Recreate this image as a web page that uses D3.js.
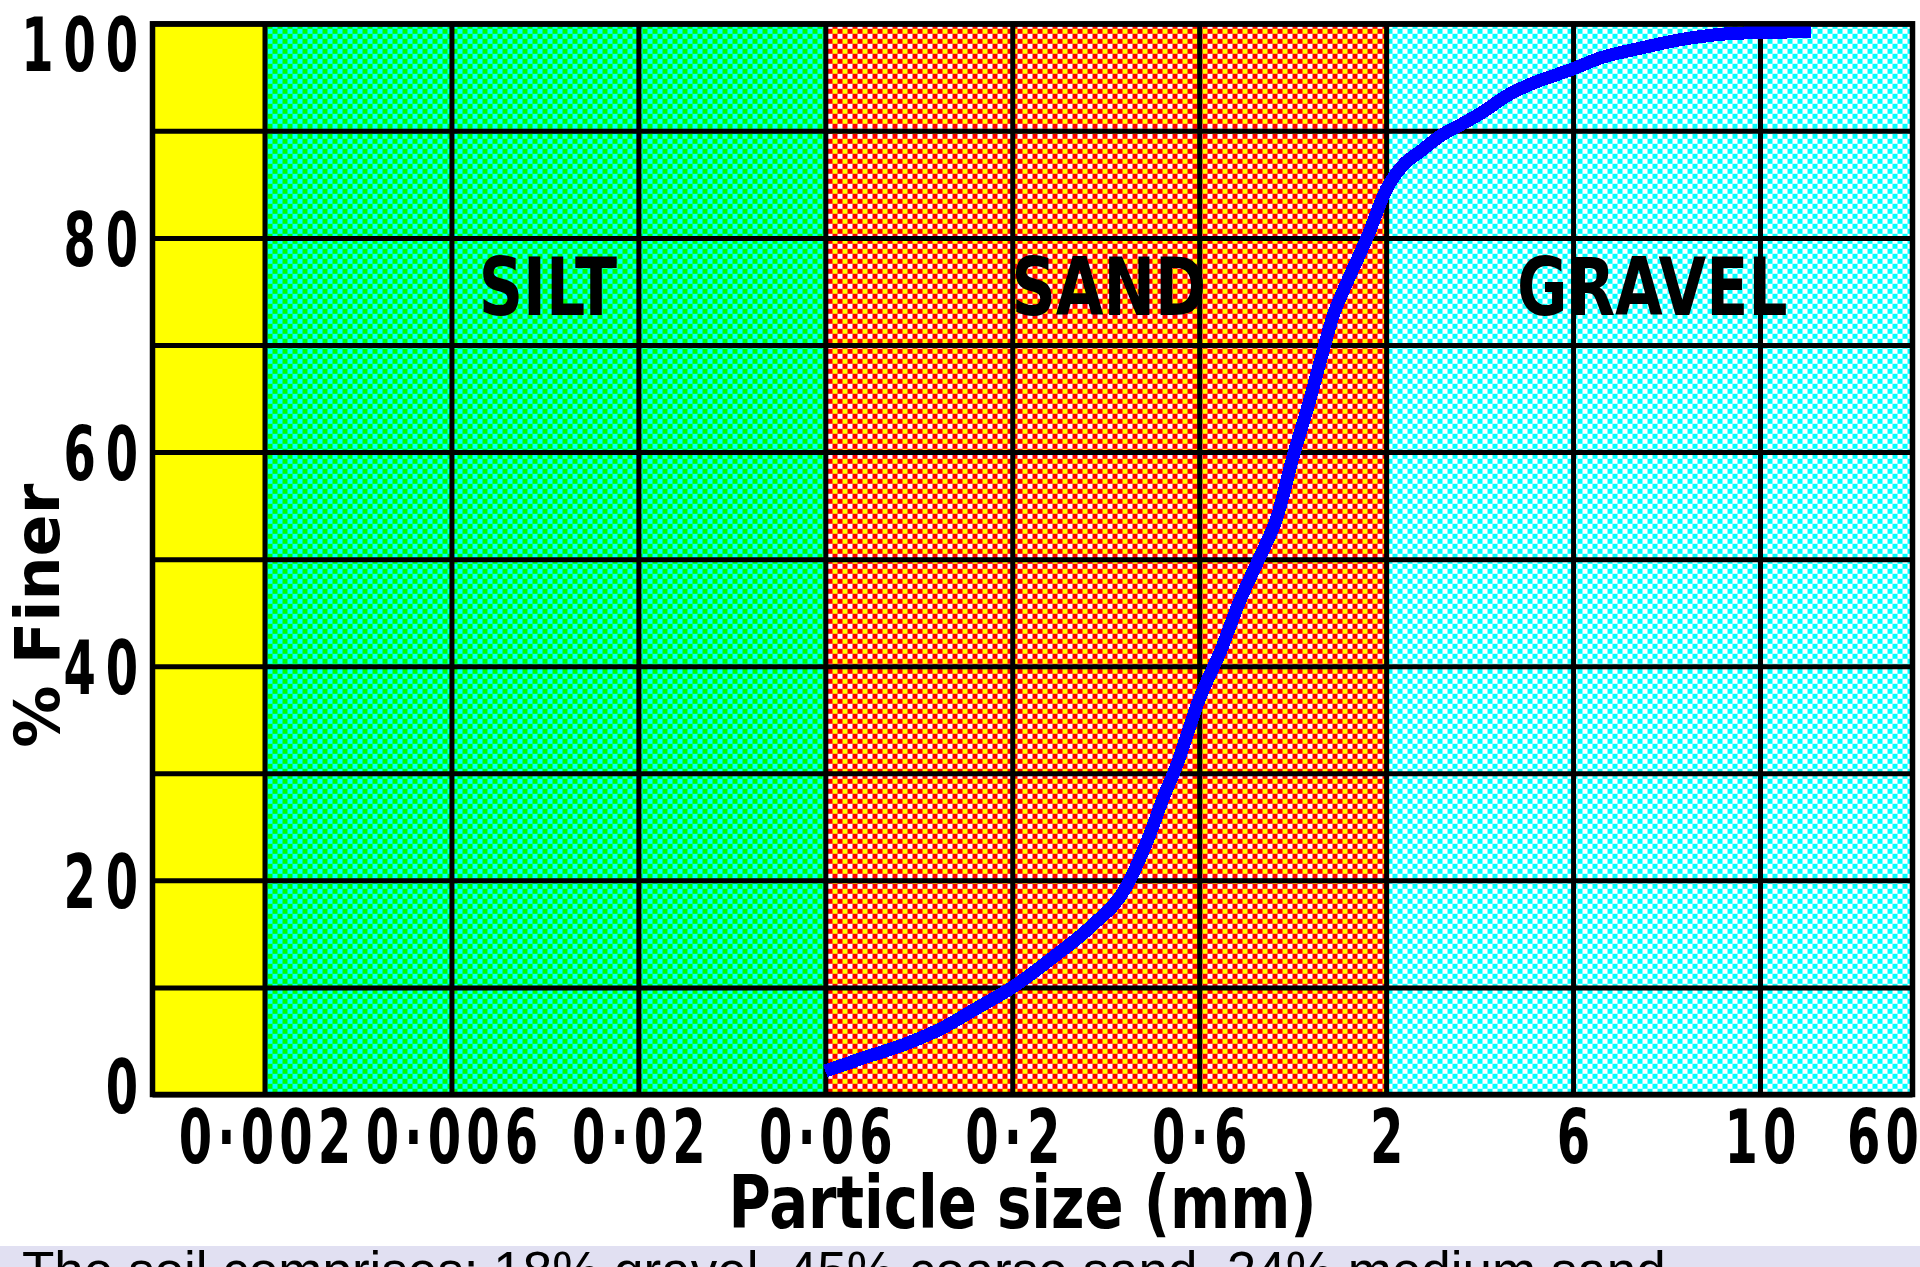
<!DOCTYPE html>
<html>
<head>
<meta charset="utf-8">
<script src="https://cdnjs.cloudflare.com/ajax/libs/d3/7.8.5/d3.min.js"></script>
<style>
  html, body { margin: 0; padding: 0; background: #fff; }
  svg { display: block; }
  .bitmap { font-family: "DejaVu Sans", sans-serif; font-weight: bold; fill: #000; }
</style>
</head>
<body>
<div id="chart"></div>
<script>
// sieve sizes (mm) that get a gridline and a label
var sizeTicks = [0.002, 0.006, 0.02, 0.06, 0.2, 0.6, 2, 6, 10];
var sizeLabels = ["0·002", "0·006", "0·02", "0·06", "0·2", "0·6", "2", "6", "10"];
var endLabel = "60";

var percentLabels = [0, 20, 40, 60, 80, 100];
var percentGrid = [0, 10, 20, 30, 40, 50, 60, 70, 80, 90, 100];

// soil zones, bounds in mm (null = edge of the chart)
var zoneNames = ["", "SILT", "SAND", "GRAVEL"];
var zoneFrom = [null, 0.002, 0.06, 2];
var zoneTo = [0.002, 0.06, 2, null];

// grading curve
var curveSize = [0.06, 0.0765, 0.104, 0.129, 0.158, 0.2, 0.256, 0.32, 0.388, 0.417, 0.449,
  0.487, 0.524, 0.6, 0.69, 0.777, 0.875, 0.992, 1.103, 1.21, 1.319, 1.427, 1.515, 1.788,
  2.0, 2.21, 2.47, 2.77, 3.11, 3.58, 3.99, 4.7, 5.4, 6.0, 6.46, 7.19, 8.16, 9.29, 10.4, 11.5];
var curveFiner = [2.2, 3.4, 4.9, 6.3, 8.0, 10.0, 12.9, 15.8, 19.2, 21.5, 24.3,
  27.8, 30.6, 36.9, 41.5, 46, 49.8, 54, 59.8, 64.3, 68.9, 72.9, 75, 80.4,
  84.5, 86.8, 88.2, 89.6, 90.6, 91.9, 93.1, 94.4, 95.2, 95.8, 96.8, 97.7, 98.6, 99.1, 99.2, 99.3];

var caption = "The soil comprises: 18% gravel, 45% coarse sand, 24% medium sand";

var svgWidth = 1920;
var svgHeight = 1267;
var margin = { top: 23.8, right: 7.5, bottom: 172.5, left: 152.5 };
var width = svgWidth - margin.left - margin.right;
var height = svgHeight - margin.top - margin.bottom;

var svg = d3.select("#chart").append("svg")
  .attr("width", svgWidth)
  .attr("height", svgHeight);

svg.append("rect").attr("width", svgWidth).attr("height", svgHeight).attr("fill", "#fff");

// checker patterns, 5px cells
var defs = svg.append("defs");
function checker(id, c) {
  var p = defs.append("pattern").attr("id", id)
    .attr("patternUnits", "userSpaceOnUse")
    .attr("width", 10).attr("height", 10);
  [[0, 0], [5, 0], [0, 5], [5, 5]].forEach(function(o, i) {
    p.append("rect").attr("x", o[0]).attr("y", o[1])
      .attr("width", 5).attr("height", 5).attr("fill", c[i]);
  });
}
checker("silt", ["#00ffff", "#00ff00", "#00ff00", "#00ffff"]);
checker("sand", ["#ff0000", "#ffffff", "#ffff00", "#ff0000"]);
checker("gravel", ["#00ffff", "#ffffff", "#ffffff", "#00ffff"]);
var zoneFill = ["#ffff00", "url(#silt)", "url(#sand)", "url(#gravel)"];

var chartGroup = svg.append("g")
  .attr("transform", `translate(${margin.left}, ${margin.top})`);

// scales: sieve sizes sit evenly, sizes in between go by log
var xTick = d3.scalePoint()
  .domain(sizeTicks)
  .range([112, width - 152.5]);
var xLog = d3.scaleLinear()
  .domain(sizeTicks.map(Math.log10))
  .range(sizeTicks.map(function(d) { return xTick(d); }));
function xs(mm) { return xLog(Math.log10(mm)); }

var y = d3.scaleLinear().domain([0, 100]).range([height, 0]);

function zoneLeft(i) { return zoneFrom[i] == null ? 0 : xs(zoneFrom[i]); }
function zoneRight(i) { return zoneTo[i] == null ? width : xs(zoneTo[i]); }

// zones
chartGroup.selectAll(".zone")
  .data(zoneNames)
  .enter()
  .append("rect")
  .attr("class", "zone")
  .attr("x", function(d, i) { return zoneLeft(i); })
  .attr("y", 0)
  .attr("width", function(d, i) { return zoneRight(i) - zoneLeft(i); })
  .attr("height", height)
  .attr("fill", function(d, i) { return zoneFill[i]; });

// gridlines
var hGrid = chartGroup.append("g")
  .call(d3.axisLeft(y).tickValues(percentGrid).tickSize(-width).tickFormat(""));
var vGrid = chartGroup.append("g")
  .attr("transform", `translate(0, ${height})`)
  .call(d3.axisBottom(xTick).tickSize(-height).tickFormat(""));
[hGrid, vGrid].forEach(function(g) {
  g.select(".domain").remove();
  g.selectAll("line").attr("stroke", "#000").attr("stroke-width", 5);
});

// zone names
chartGroup.selectAll(".zoneName")
  .data(zoneNames)
  .enter()
  .append("text")
  .attr("class", "bitmap")
  .attr("font-size", 80)
  .attr("text-anchor", "middle")
  .attr("transform", function(d, i) {
    return `translate(${(zoneLeft(i) + zoneRight(i)) / 2 + 3}, ${y(75.5) + 29}) scale(0.77, 1)`;
  })
  .text(function(d) { return d; });

// grading curve
var line = d3.line()
  .x(function(d) { return xs(d[0]); })
  .y(function(d) { return y(d[1]); })
  .curve(d3.curveMonotoneX);
chartGroup.append("path")
  .datum(curveSize.map(function(s, i) { return [s, curveFiner[i]]; }))
  .attr("d", line)
  .attr("fill", "none")
  .attr("stroke", "#0000ff")
  .attr("stroke-width", 13)
  .attr("stroke-linejoin", "round")
  .attr("shape-rendering", "crispEdges");

// frame
chartGroup.append("rect")
  .attr("width", width)
  .attr("height", height)
  .attr("fill", "none")
  .attr("stroke", "#000")
  .attr("stroke-width", 5.5);

// y labels: narrow glyphs, wide spacing like the bitmap font
var yAxis = chartGroup.append("g")
  .call(d3.axisLeft(y).tickValues(percentLabels).tickSize(0));
yAxis.select(".domain").remove();
yAxis.selectAll("text")
  .attr("class", "bitmap")
  .attr("font-size", 75)
  .attr("letter-spacing", 16)
  .attr("x", null).attr("dy", null)
  .attr("text-anchor", "end")
  .attr("transform", function(d) {
    // end labels are pulled inside the frame
    var c = Math.min(Math.max(y(d), 19.6), height - 9);
    return `translate(${-14.5 + 16 * 0.62}, ${c - y(d) + 27.4}) scale(0.62, 1)`;
  });

// x labels
var xAxis = chartGroup.append("g")
  .attr("transform", `translate(0, ${height})`)
  .call(d3.axisBottom(xTick).tickSize(0).tickFormat(function(d, i) { return sizeLabels[i]; }));
xAxis.select(".domain").remove();
xAxis.selectAll("text")
  .attr("class", "bitmap")
  .attr("font-size", 75)
  .attr("letter-spacing", 8)
  .attr("y", null).attr("dy", null)
  .attr("transform", `translate(${8 * 0.64 / 2}, 68.5) scale(0.64, 1)`);

chartGroup.append("text")
  .attr("class", "bitmap")
  .attr("font-size", 75)
  .attr("letter-spacing", 8)
  .attr("text-anchor", "middle")
  .attr("transform", `translate(${width - 27}, ${height + 68.5}) scale(0.64, 1)`)
  .text(endLabel);

// axis titles
chartGroup.append("text")
  .attr("class", "bitmap")
  .attr("font-size", 73)
  .attr("text-anchor", "middle")
  .attr("transform", `translate(${width / 2 - 10}, ${height + 133.5}) scale(0.79, 1)`)
  .text("Particle size (mm)");

chartGroup.append("text")
  .attr("class", "bitmap")
  .attr("font-size", 62)
  .attr("text-anchor", "middle")
  .attr("transform", `translate(-94, ${592}) rotate(-90)`)
  .text("% Finer");

// caption strip
svg.append("rect")
  .attr("x", 0).attr("y", 1246)
  .attr("width", svgWidth).attr("height", svgHeight - 1246)
  .attr("fill", "#e1e0f2");
svg.append("text")
  .attr("x", 22).attr("y", 1289)
  .attr("font-family", "'Liberation Sans', Arial, sans-serif")
  .attr("font-size", 53)
  .attr("fill", "#000")
  .text(caption);
</script>
</body>
</html>
